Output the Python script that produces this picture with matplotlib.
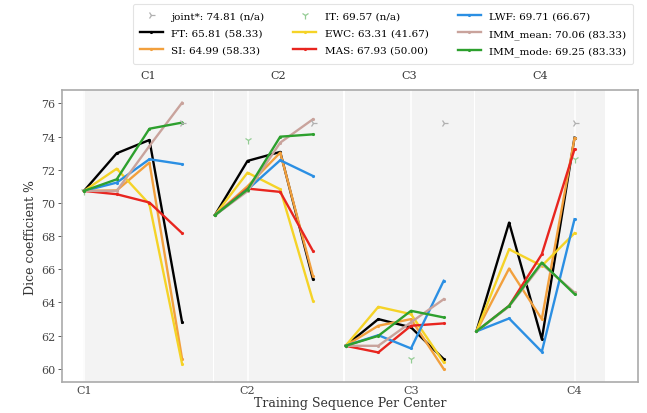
import matplotlib
matplotlib.use("Agg")
import matplotlib.pyplot as plt
import matplotlib.transforms as mtransforms
import numpy as np

plt.rcParams['font.family'] = 'DejaVu Serif'

centers = ['C1', 'C2', 'C3', 'C4']

# dice per center (rows) for training steps C1..C4 (cols)
ft = [[70.72, 72.99, 73.79, 62.79],
      [69.25, 72.53, 73.07, 65.40],
      [61.38, 62.99, 62.49, 60.58],
      [62.25, 68.81, 61.78, 73.93]]
si = [[70.72, 70.75, 72.43, 60.58],
      [69.25, 71.00, 73.03, 65.60],
      [61.38, 62.59, 62.99, 59.98],
      [62.25, 66.04, 62.99, 73.90]]
ewc = [[70.72, 72.06, 69.92, 60.28],
       [69.25, 71.82, 70.82, 64.10],
       [61.38, 63.73, 63.29, 60.38],
       [62.25, 67.20, 66.20, 68.17]]
mas = [[70.72, 70.52, 70.02, 68.17],
       [69.25, 70.86, 70.66, 67.10],
       [61.38, 60.98, 62.59, 62.73],
       [62.25, 63.79, 66.90, 73.23]]
lwf = [[70.72, 71.22, 72.63, 72.33],
       [69.25, 70.80, 72.57, 71.62],
       [61.38, 62.02, 61.22, 65.30],
       [62.25, 63.03, 61.02, 69.01]]
imm_mean = [[70.72, 70.72, 73.43, 76.04],
            [69.25, 70.70, 73.63, 75.04],
            [61.38, 61.38, 62.80, 64.19],
            [62.25, 63.75, 66.30, 64.60]]
imm_mode = [[70.72, 71.42, 74.47, 74.84],
            [69.25, 70.80, 73.99, 74.13],
            [61.38, 61.98, 63.49, 63.09],
            [62.25, 63.79, 66.40, 64.50]]
joint = [74.81, 74.81, 74.81, 74.81]
it = [70.72, 73.77, 60.58, 72.67]

labels = {
    'joint': 'joint*: 74.81 (n/a)',
    'it': 'IT: 69.57 (n/a)',
    'FT': 'FT: 65.81 (58.33)',
    'SI': 'SI: 64.99 (58.33)',
    'EWC': 'EWC: 63.31 (41.67)',
    'MAS': 'MAS: 67.93 (50.00)',
    'LWF': 'LWF: 69.71 (66.67)',
    'IMM_mean': 'IMM_mean: 70.06 (83.33)',
    'IMM_mode': 'IMM_mode: 69.25 (83.33)',
}

series = [
    ('FT', ft, 'black'),
    ('SI', si, '#f2a03d'),
    ('EWC', ewc, '#f5d327'),
    ('MAS', mas, '#e8251f'),
    ('LWF', lwf, '#2b8fe3'),
    ('IMM_mean', imm_mean, '#c9a39c'),
    ('IMM_mode', imm_mode, '#2da02e'),
]

fig = plt.figure(figsize=(6.47, 4.14), dpi=100)
ax = fig.add_axes([0.096, 0.075, 0.890, 0.705])

# grey panel per center
for p in range(4):
    ax.axvspan(4 * p - 0.03, 4 * p + 3.93, color='#f3f3f3', zorder=0, lw=0)
    ax.axvline(5 * p, color='white', lw=1.2, zorder=0.5)

handles = {}
for name, vals, col in series:
    for p in range(4):
        xs = 4 * p + np.arange(4)
        ln, = ax.plot(xs, vals[p], color=col, lw=1.7, marker='.', ms=2.5,
                      zorder=2)
    handles[name] = ln

for p in range(4):
    hj, = ax.plot(4 * p + 3, joint[p], ls='none', marker='4', ms=6,
                  color='#b0b0b0', mew=0.9, zorder=3)
    hi, = ax.plot(4 * p + p, it[p], ls='none', marker='1', ms=6,
                  color='#94cc94', mew=0.9, zorder=1.5)
handles['joint'] = hj
handles['it'] = hi

ax.set_xlim(-0.67, 16.94)
ax.set_ylim(59.2, 76.8)
ax.set_yticks(np.arange(60, 77, 2))
ax.set_xticks([0, 5, 10, 15])
ax.set_xticklabels(centers)
ax.tick_params(axis='both', labelsize=8, colors='#444444', length=3,
               width=0.6, pad=2)
ax.tick_params(axis='x', length=0)
for s in ax.spines.values():
    s.set_color('#aaaaaa')
    s.set_linewidth(1.2)

trans = mtransforms.blended_transform_factory(ax.transData, ax.transAxes)
for p in range(4):
    ax.text(4 * p + 1.95, 1.035, centers[p], transform=trans, ha='center',
            va='bottom', fontsize=8, color='#333333')

ax.set_xlabel('Training Sequence Per Center', fontsize=9, color='#333333',
              labelpad=1)
ax.set_ylabel('Dice coefficient %', fontsize=9, color='#333333', labelpad=3)

order = ['joint', 'FT', 'SI', 'it', 'EWC', 'MAS', 'LWF', 'IMM_mean',
         'IMM_mode']
leg = fig.legend([handles[k] for k in order], [labels[k] for k in order],
                 loc='upper right', bbox_to_anchor=(0.987, 1.0), ncol=3,
                 fontsize=7.5, frameon=True, handlelength=2.2,
                 columnspacing=2.8, labelspacing=0.75, borderpad=0.7,
                 handletextpad=0.8)
leg.get_frame().set_edgecolor('#dddddd')
leg.get_frame().set_linewidth(0.8)

fig.savefig('out.png', dpi=100)
